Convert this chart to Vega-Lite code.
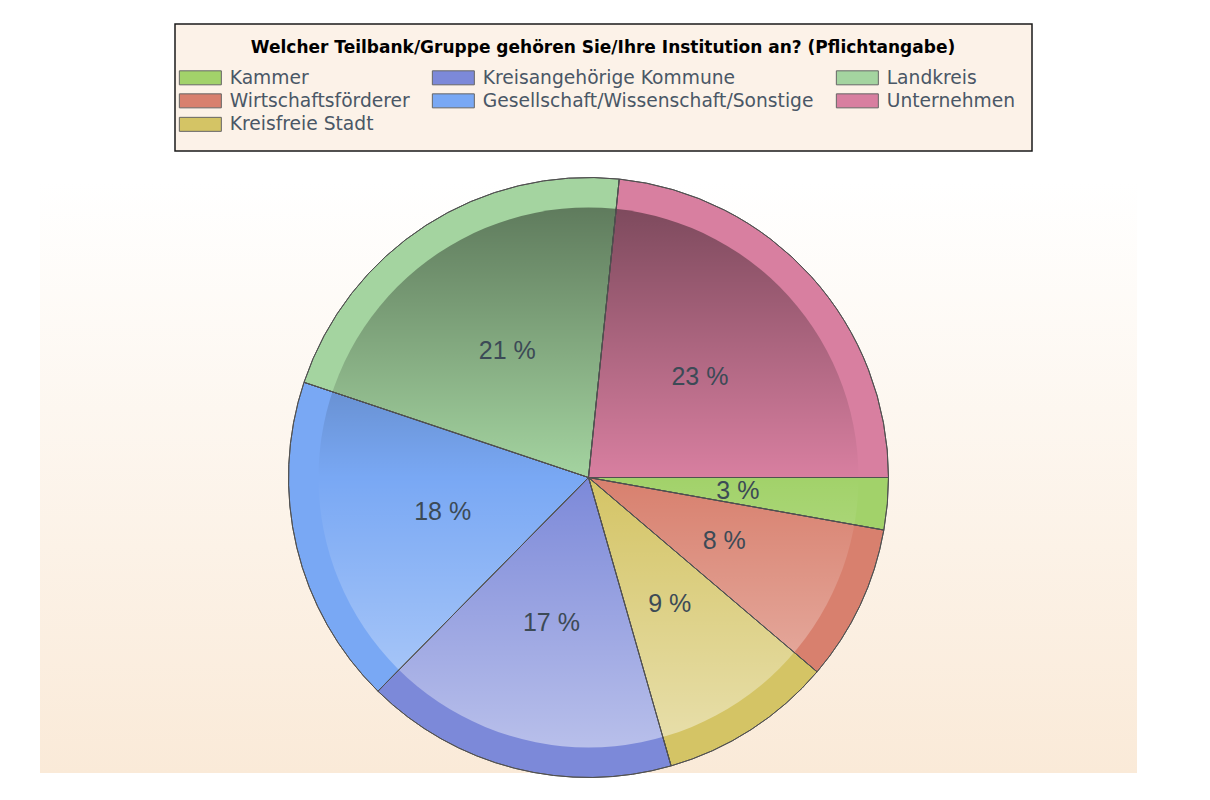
{
  "$schema": "https://vega.github.io/schema/vega-lite/v6.json",
  "autosize": "none",
  "width": 1097,
  "height": 591,
  "padding": {"left": 40, "top": 182, "right": 73, "bottom": 27},
  "background": "#ffffff",
  "view": {
    "stroke": null,
    "fill": {
      "gradient": "linear", "x1": 0, "y1": 0, "x2": 0, "y2": 1,
      "stops": [{"offset": 0, "color": "#ffffff"}, {"offset": 1, "color": "#faead8"}]
    }
  },
  "config": {"legend": {"strokeWidth": 1.5}},
  "data": {
    "values": [
      {"order": 1, "group": "Kammer", "n": 3, "label": "3 %"},
      {"order": 2, "group": "Wirtschaftsförderer", "n": 9, "label": "8 %"},
      {"order": 3, "group": "Kreisfreie Stadt", "n": 10, "label": "9 %"},
      {"order": 4, "group": "Kreisangehörige Kommune", "n": 18, "label": "17 %"},
      {"order": 5, "group": "Gesellschaft/Wissenschaft/Sonstige", "n": 19, "label": "18 %"},
      {"order": 6, "group": "Landkreis", "n": 23, "label": "21 %"},
      {"order": 7, "group": "Unternehmen", "n": 25, "label": "23 %"}
    ]
  },
  "layer": [
    {
      "mark": {"type": "arc", "outerRadius": 300, "stroke": "#5a5a5a", "strokeWidth": 1},
      "encoding": {
        "theta": {"field": "n", "type": "quantitative", "stack": true, "scale": {"range": [1.5708, 7.854]}},
        "order": {"field": "order", "type": "quantitative"},
        "color": {
          "field": "group", "type": "nominal",
          "scale": {
            "domain": ["Kammer", "Kreisangehörige Kommune", "Landkreis", "Wirtschaftsförderer", "Gesellschaft/Wissenschaft/Sonstige", "Unternehmen", "Kreisfreie Stadt"],
            "range": ["#a2d26a", "#7c89d9", "#a4d4a0", "#d8806e", "#79a8f4", "#d87fa0", "#d4c465"]
          },
          "legend": {
            "orient": "none",
            "legendX": 135,
            "legendY": -158,
            "direction": "horizontal",
            "columns": 3,
            "title": "Welcher Teilbank/Gruppe gehören Sie/Ihre Institution an? (Pflichtangabe)",
            "titleFont": "DejaVu Sans",
            "titleFontSize": 17,
            "titleFontWeight": "bold",
            "titleColor": "#000000",
            "titleAnchor": "middle",
            "titleLimit": 0,
            "titlePadding": 11,
            "labelFont": "DejaVu Sans",
            "labelFontSize": 18.7,
            "labelLimit": 0,
            "labelColor": "#4a5766",
            "labelOffset": 20,
            "symbolType": "M-3,-1H3V1H-3Z",
            "symbolSize": 196,
            "symbolStrokeColor": "#666666",
            "symbolStrokeWidth": 1,
            "symbolOpacity": 1,
            "columnPadding": 20,
            "rowPadding": 3.5,
            "padding": 16,
            "fillColor": "#fcf2e8",
            "strokeColor": "#1a1a1a"
          }
        }
      }
    },
    {
      "data": {"values": [{"k": 1}]},
      "mark": {
        "type": "arc", "theta": 0, "theta2": 6.2832, "outerRadius": 270,
        "fill": {
          "gradient": "linear", "x1": 0, "y1": 0, "x2": 0, "y2": 1,
          "stops": [
            {"offset": 0, "color": "rgba(0,0,0,0.42)"},
            {"offset": 0.5, "color": "rgba(0,0,0,0)"},
            {"offset": 0.5, "color": "rgba(255,255,255,0)"},
            {"offset": 1, "color": "rgba(255,255,255,0.46)"}
          ]
        }
      },
      "encoding": {}
    },
    {
      "mark": {"type": "arc", "outerRadius": 300, "fillOpacity": 0, "stroke": "#505050", "strokeWidth": 1},
      "encoding": {
        "theta": {"field": "n", "type": "quantitative", "stack": true},
        "order": {"field": "order", "type": "quantitative"}
      }
    },
    {
      "mark": {"type": "text", "radius": 150, "font": "Liberation Sans", "fontSize": 25, "fill": "#3c4a56"},
      "encoding": {
        "theta": {"field": "n", "type": "quantitative", "stack": true},
        "order": {"field": "order", "type": "quantitative"},
        "text": {"field": "label", "type": "nominal"}
      }
    }
  ]
}
